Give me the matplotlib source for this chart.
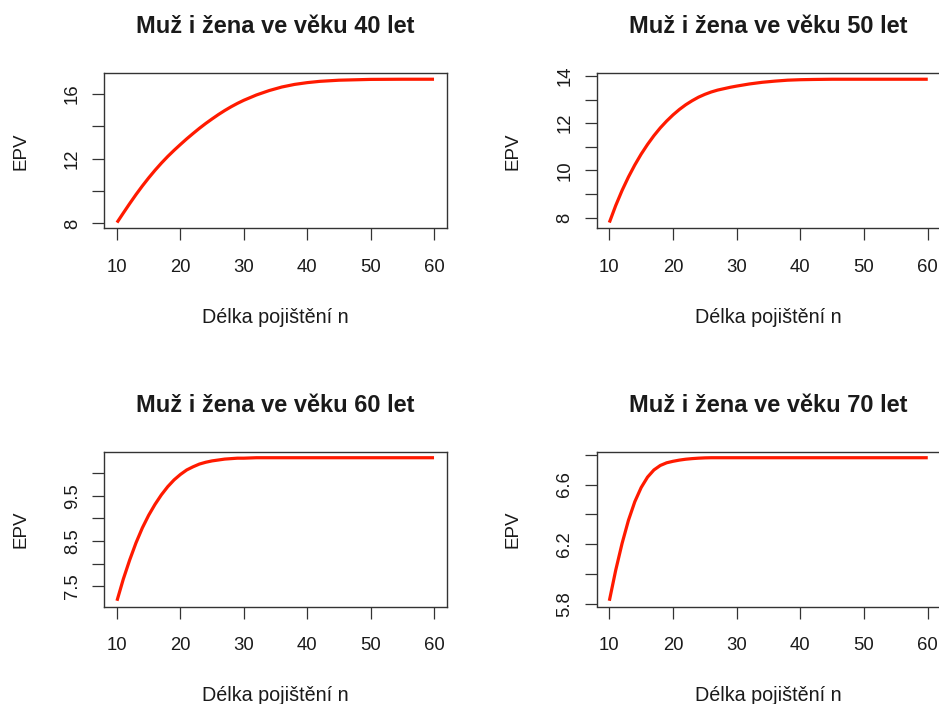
import matplotlib
matplotlib.use("Agg")
import matplotlib.pyplot as plt

plt.rcParams['font.family'] = ['Liberation Sans', 'DejaVu Sans']

# ---- data ----
n_values = [10, 11, 12, 13, 14, 15, 16, 17, 18, 19, 20, 21, 22, 23, 24, 25,
            26, 27, 28, 29, 30, 32, 34, 36, 38, 40, 42, 45, 50, 55, 60]

epv_40 = [8.05, 8.64, 9.22, 9.78, 10.31, 10.81, 11.28, 11.72, 12.13, 12.51,
          12.87, 13.22, 13.55, 13.87, 14.17, 14.45, 14.72, 14.97, 15.20, 15.41,
          15.60, 15.93, 16.20, 16.42, 16.58, 16.69, 16.77, 16.84, 16.89, 16.90, 16.90]
epv_50 = [7.79, 8.51, 9.15, 9.72, 10.23, 10.69, 11.10, 11.47, 11.80, 12.09,
          12.35, 12.58, 12.78, 12.95, 13.10, 13.22, 13.32, 13.40, 13.46, 13.52,
          13.57, 13.66, 13.73, 13.78, 13.82, 13.84, 13.85, 13.86, 13.86, 13.86, 13.86]
epv_60 = [7.18, 7.66, 8.08, 8.46, 8.79, 9.07, 9.31, 9.52, 9.70, 9.85,
          9.97, 10.07, 10.14, 10.20, 10.24, 10.27, 10.29, 10.31, 10.32, 10.33,
          10.33, 10.34, 10.34, 10.34, 10.34, 10.34, 10.34, 10.34, 10.34, 10.34, 10.34]
epv_70 = [5.82, 6.025, 6.205, 6.36, 6.485, 6.58, 6.65, 6.698, 6.728, 6.746,
          6.756, 6.764, 6.77, 6.774, 6.777, 6.779, 6.78, 6.78, 6.78, 6.78,
          6.78, 6.78, 6.78, 6.78, 6.78, 6.78, 6.78, 6.78, 6.78, 6.78, 6.78]

titles = ["Muž i žena ve věku 40 let", "Muž i žena ve věku 50 let",
          "Muž i žena ve věku 60 let", "Muž i žena ve věku 70 let"]
x_ticks = [10, 20, 30, 40, 50, 60]
y_ticks = [[8, 10, 12, 14, 16],
           [8, 9, 10, 11, 12, 13, 14],
           [7.5, 8.0, 8.5, 9.0, 9.5, 10.0],
           [5.8, 6.0, 6.2, 6.4, 6.6, 6.8]]
y_ticklabels = [["8", "", "12", "", "16"],
                ["8", "", "10", "", "12", "", "14"],
                ["7.5", "", "8.5", "", "9.5", ""],
                ["5.8", "", "6.2", "", "6.6", ""]]
x_label = "Délka pojištění n"
y_label = "EPV"
series = [epv_40, epv_50, epv_60, epv_70]

# ---- layout ----
W, H = 939, 704
fig = plt.figure(figsize=(W / 100, H / 100), dpi=100)
fig.patch.set_facecolor('white')

def rect(l, r, t, b):
    return [l / W, 1 - b / H, (r - l) / W, (b - t) / H]

rects = [rect(104.3, 446.7, 73.5, 228.3), rect(596.6, 940.5, 73.5, 228.3),
         rect(104.3, 446.7, 452.0, 606.5), rect(596.6, 940.5, 452.0, 606.5)]

txt_col = '#1a1a1a'
renderer = fig.canvas.get_renderer()

def fit_width(textobj, target_px):
    w = textobj.get_window_extent(renderer).width
    textobj.set_fontsize(textobj.get_fontsize() * target_px / w)

for i in range(4):
    ax = fig.add_axes(rects[i])
    y = series[i]
    ax.plot(n_values, y, color='#ff1a00', linewidth=2.3, solid_capstyle='butt',
            solid_joinstyle='round')
    xmin, xmax = min(n_values), max(n_values)
    xr = xmax - xmin
    ax.set_xlim(xmin - 0.04 * xr, xmax + 0.04 * xr)
    ymin, ymax = min(y), max(y)
    yr = ymax - ymin
    ax.set_ylim(ymin - 0.04 * yr, ymax + 0.04 * yr)

    ax.set_xticks(x_ticks)
    ax.set_xticklabels([str(t) for t in x_ticks])
    ax.set_yticks(y_ticks[i])
    ax.set_yticklabels(y_ticklabels[i], rotation=90, va='center')

    ax.tick_params(axis='both', direction='out', length=8.3, width=0.9,
                   color='#333333', labelsize=13.3, labelcolor=txt_col)
    ax.tick_params(axis='x', pad=13.5)
    ax.tick_params(axis='y', pad=8.5)
    for sp in ax.spines.values():
        sp.set_color('#333333')
        sp.set_linewidth(1.0)

    axw = (rects[i][2] * W)
    axh = (rects[i][3] * H)
    ax.set_xlabel(x_label, fontsize=13, color=txt_col)
    fit_width(ax.xaxis.label, 146)
    ax.xaxis.label.set_va('center')
    ax.xaxis.set_label_coords(0.5, -(317.5 - 228.3) / axh)
    ax.set_ylabel(y_label, fontsize=13.5, color=txt_col)
    ax.yaxis.label.set_va('center')
    ax.yaxis.set_label_coords(-(104.3 - 20.5) / axw, 0.5)

    t = ax.set_title(titles[i], fontsize=14.7, fontweight='bold', color=txt_col,
                     pad=(40 * 0.72))
    fit_width(t, 278)

fig.savefig("out.png", dpi=100, facecolor='white')
